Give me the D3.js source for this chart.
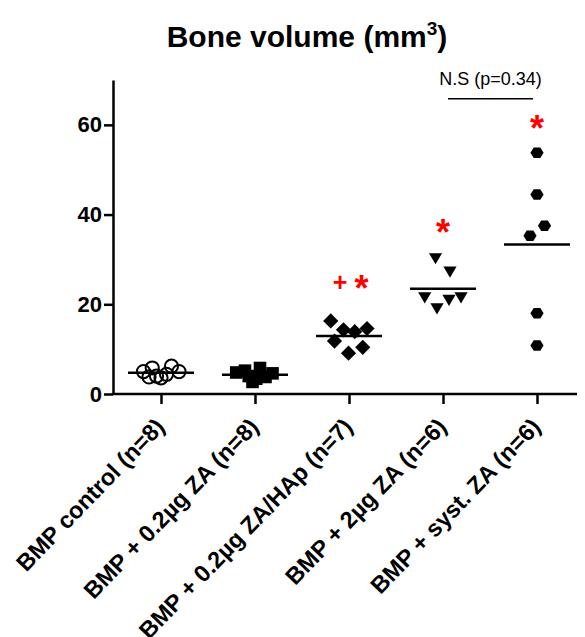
<!DOCTYPE html>
<html lang="en">
<head>
  <meta charset="UTF-8">
  <title>Bone volume</title>
  <style>
    body { margin: 0; background: #fff; }
    text { font-family: "Liberation Sans", Arial, sans-serif; }
  </style>
</head>
<body>
  <section class="plot"></section>

  <script src="https://cdn.jsdelivr.net/npm/d3@7"></script>
  <script>
    // Data
    const categories = [
      "BMP control (n=8)",
      "BMP + 0.2\u00b5g ZA (n=8)",
      "BMP + 0.2\u00b5g ZA/HAp (n=7)",
      "BMP + 2\u00b5g ZA (n=6)",
      "BMP + syst. ZA (n=6)"
    ];
    const controlValues = [5.0, 5.8, 3.6, 6.2, 5.0, 4.0, 4.4, 3.8];
    const lowZaValues = [4.8, 5.2, 2.7, 5.8, 4.6, 3.4, 4.0, 3.8];
    const hapValues = [16.3, 14.3, 13.9, 14.6, 11.8, 9.1, 10.4];
    const highZaValues = [30.3, 27.3, 21.6, 19.1, 21.0, 21.6];
    const systValues = [53.8, 44.5, 37.5, 35.3, 18.0, 10.8];
    // horizontal spread of each point inside its column (-1 .. 1)
    const controlJitter = [-0.7, -0.35, 0, 0.42, 0.72, -0.18, 0.22, -0.48];
    const lowZaJitter = [-0.75, -0.4, -0.1, 0.2, 0.7, 0.05, -0.25, 0.42];
    const hapJitter = [-0.73, -0.22, 0.23, 0.72, -0.58, -0.02, 0.55];
    const highZaJitter = [-0.3, 0.28, -0.73, -0.24, 0.24, 0.72];
    const systJitter = [0, 0, 0.3, -0.28, 0, 0];
    const yTicks = [0, 20, 40, 60];
    const signif = [[], [], ["+", "*"], ["*"], ["*"]];
    const signifLevel = [null, null, 24.8, 37.3, 60.5];
    const comparison = { from: 3, to: 4, level: 65.8, label: "N.S (p=0.34)" };

    const groups = [controlValues, lowZaValues, hapValues, highZaValues, systValues];
    const jitters = [controlJitter, lowZaJitter, hapJitter, highZaJitter, systJitter];

    // custom marker shapes, size = half width
    const hexagon = { draw(ctx, r) {
      for (let i = 0; i < 6; i++) {
        const a = Math.PI / 3 * i;
        const px = r * Math.cos(a), py = r * 0.92 * Math.sin(a);
        i ? ctx.lineTo(px, py) : ctx.moveTo(px, py);
      }
      ctx.closePath();
    }};
    const triangleDown = { draw(ctx, r) {
      ctx.moveTo(-r, -r * 0.75);
      ctx.lineTo(r, -r * 0.75);
      ctx.lineTo(0, r * 0.95);
      ctx.closePath();
    }};
    const diamond = { draw(ctx, r) {
      ctx.moveTo(0, -r); ctx.lineTo(r, 0); ctx.lineTo(0, r); ctx.lineTo(-r, 0);
      ctx.closePath();
    }};
    const square = { draw(ctx, r) { ctx.rect(-r, -r, 2 * r, 2 * r); } };
    const circle = { draw(ctx, r) { ctx.moveTo(r, 0); ctx.arc(0, 0, r, 0, 2 * Math.PI); } };
    const markers = [
      { type: circle, size: 6.6, fill: "none", stroke: "#000" },
      { type: square, size: 6.3, fill: "#000", stroke: "none" },
      { type: diamond, size: 7.6, fill: "#000", stroke: "none" },
      { type: triangleDown, size: 6.6, fill: "#000", stroke: "none" },
      { type: hexagon, size: 6.6, fill: "#000", stroke: "none" }
    ];

    const width = 585, height = 637;
    const svg = d3.select(".plot").append("svg")
      .attr("width", width)
      .attr("height", height);

    const y = d3.scaleLinear().domain([0, 70]).range([394, 80]);
    const x = d3.scalePoint().domain(categories).range([161, 537]);
    const axisX = 113, axisRight = 577, spread = 25, meanHalf = 33;

    // Title
    const title = svg.append("text")
      .attr("x", 307).attr("y", 47)
      .attr("text-anchor", "middle")
      .attr("font-size", "30px")
      .attr("font-weight", "bold")
      .text("Bone volume (mm");
    title.append("tspan").attr("font-size", "19px").attr("dy", "-12").text("3");
    title.append("tspan").attr("dy", "12").text(")");

    // Y axis
    const yAxis = svg.append("g")
      .attr("transform", `translate(${axisX},0)`)
      .call(d3.axisLeft(y).tickValues(yTicks).tickSize(9).tickSizeOuter(0).tickPadding(2));
    yAxis.select(".domain").attr("stroke-width", 2.5);
    yAxis.selectAll(".tick line").attr("stroke-width", 2.5);
    yAxis.selectAll(".tick text")
      .attr("font-size", "22px").attr("font-weight", "bold")
      .attr("font-family", "Liberation Sans, Arial, sans-serif")
      .attr("fill", "#000");

    // X axis
    const xAxis = svg.append("g")
      .attr("transform", `translate(0,${y(0)})`)
      .call(d3.axisBottom(x).tickSize(10).tickSizeOuter(0).tickFormat(""));
    xAxis.select(".domain").remove();
    xAxis.selectAll(".tick line").attr("stroke-width", 2.5);
    xAxis.append("line")
      .attr("x1", axisX - 1.25).attr("x2", axisRight)
      .attr("stroke", "#000").attr("stroke-width", 2.5);

    svg.append("g").selectAll("text")
      .data(categories)
      .join("text")
        .attr("transform", d => `translate(${x(d) + 5},${y(0) + 34}) rotate(-46)`)
        .attr("text-anchor", "end")
        .attr("font-size", "23.5px")
        .attr("font-weight", "bold")
        .text(d => d);

    // Points
    groups.forEach((vals, gi) => {
      const m = markers[gi];
      const cx = x(categories[gi]);
      svg.append("g").selectAll("path")
        .data(vals)
        .join("path")
          .attr("transform", (d, i) => `translate(${cx + jitters[gi][i] * spread},${y(d)})`)
          .attr("d", d3.symbol(m.type, m.size))
          .attr("fill", m.fill)
          .attr("stroke", m.stroke)
          .attr("stroke-width", 2);

      // mean line
      const mean = d3.mean(vals);
      svg.append("line")
        .attr("x1", cx - meanHalf).attr("x2", cx + meanHalf)
        .attr("y1", y(mean)).attr("y2", y(mean))
        .attr("stroke", "#000").attr("stroke-width", 2.5);

      // significance marks
      const marks = signif[gi];
      marks.forEach((s, k) => {
        const off = marks.length > 1 ? (k === 0 ? -9 : 12.5) : 0;
        svg.append("text")
          .attr("x", cx + off)
          .attr("y", y(signifLevel[gi]) + (s === "*" ? 18 : 8.5))
          .attr("text-anchor", "middle")
          .attr("fill", "#ff0000")
          .attr("font-weight", "bold")
          .attr("font-size", s === "*" ? "36px" : "25px")
          .text(s);
      });
    });

    // Comparison bracket
    const cx1 = x(categories[comparison.from]) + 5;
    const cx2 = x(categories[comparison.to]) - 4;
    svg.append("line")
      .attr("x1", cx1).attr("x2", cx2)
      .attr("y1", y(comparison.level)).attr("y2", y(comparison.level))
      .attr("stroke", "#000").attr("stroke-width", 1.5);
    svg.append("text")
      .attr("x", (cx1 + cx2) / 2)
      .attr("y", y(comparison.level) - 14)
      .attr("text-anchor", "middle")
      .attr("font-size", "18px")
      .text(comparison.label);
  </script>
</body>
</html>
